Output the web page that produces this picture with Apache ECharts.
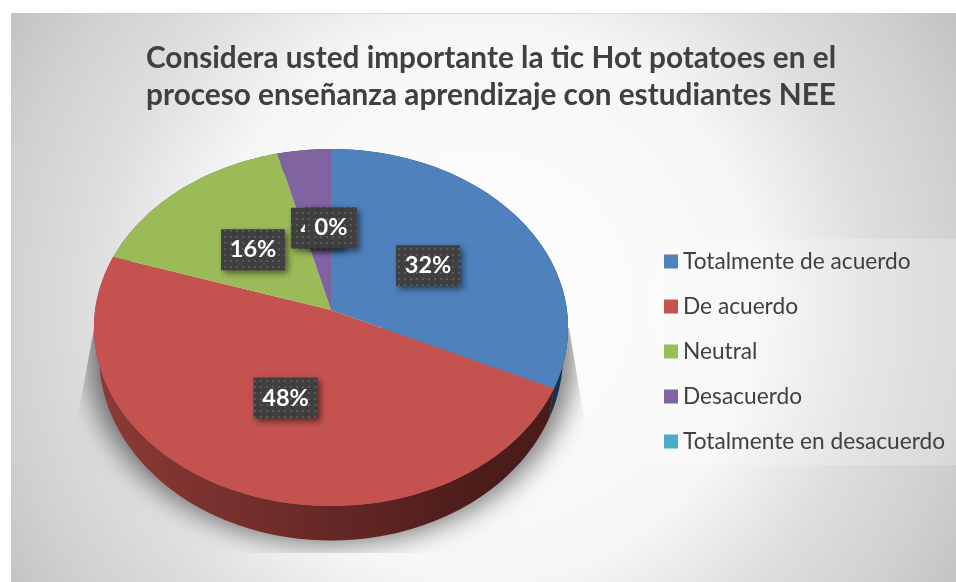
<!DOCTYPE html>
<html><head><meta charset="utf-8">
<style>html,body{margin:0;padding:0;background:#fff}#c{width:956px;height:582px}</style>
<script src="https://cdn.jsdelivr.net/npm/echarts@6/dist/echarts.min.js"></script>
</head><body><div id="c"></div>
<script>
const titleText = 'Considera usted importante la tic Hot potatoes en el\nproceso enseñanza aprendizaje con estudiantes NEE';
const categories = ['Totalmente de acuerdo','De acuerdo','Neutral','Desacuerdo','Totalmente en desacuerdo'];
const values = [32,48,16,4,0];
const topColors = ['#4f81bd','#c4524f','#9bbb59','#8064a2','#4bacc6'];
const sideFrom = ['#2a4d78','#8c3a36','#5d7034','#4c3c61','#2d6776'];
const sideTo = ['#153252','#4c1c1b','#3f4c22','#33283f','#1e4550'];

const total = values.reduce((a,b)=>a+b,0);
const AX=331, AY=310, R=235.9, B=176.8, K=0.098;
function proj(deg,r){
  const t=deg*Math.PI/180, u=r*Math.sin(t), v=-r*Math.cos(t), w=1-K*v;
  return [AX+R*u/w, AY+B*v/w];
}
function lower(p){
  return [331+(p[0]-331)*232/237, 355+(p[1]-327.5)*185/178];
}
function arc(a0,a1,r){
  const n=Math.max(2,Math.ceil(Math.abs(a1-a0)/1.5)), out=[];
  for(let i=0;i<=n;i++) out.push(proj(a0+(a1-a0)*i/n,r));
  return out;
}
const pc=document.createElement('canvas'); pc.width=6; pc.height=6;
const g=pc.getContext('2d'); g.fillStyle='#3f3f3f'; g.fillRect(0,0,6,6);
g.fillStyle='#5a5a5a'; g.fillRect(2,2,2,2);

function renderSlice(params){
  const i=params.seriesIndex;
  let before=0; for(let k=0;k<i;k++) before+=values[k];
  const a0=before/total*360, a1=(before+values[i])/total*360;
  const children=[];
  if(i===0){
    const OFF=3000;
    const ring=arc(0,360,1).map(lower).map(p=>[331+(p[0]-331)*1.05-OFF,355+(p[1]-355)*1.02]);
    children.push({type:'group',
      clipPath:{type:'polygon',shape:{points:[[94,328],[569,328],[584,417],[650,553],[30,553],[79,410]]}},
      children:[{type:'polygon',z2:1,shape:{points:ring},style:{fill:'#000',
        shadowColor:'rgba(0,0,0,0.5)',shadowBlur:26,shadowOffsetX:OFF}}]});
  }
  if(values[i]>0){
    const t=arc(a0,a1,1);
    const side=t.concat(t.map(lower).reverse());
    children.push({type:'polygon',z2:2,shape:{points:side},style:{
      fill:{type:'linear',global:true,x:100,y:0,x2:480,y2:0,colorStops:[{offset:0,color:sideFrom[i]},{offset:1,color:sideTo[i]}]}}});
    children.push({type:'polygon',z2:3,shape:{points:[[AX,AY]].concat(t)},style:{fill:topColors[i]}});
  }
  const c=proj((a0+a1)/2,0.5);
  const cy=c[1]+2;
  const txt=Math.round(values[i]/total*100)+'%';
  const bw=txt.length>2?64:52;
  children.push({type:'rect',z2:10+2*i,shape:{x:c[0]-bw/2,y:cy-20.5,width:bw,height:41},style:{
    fill:{image:pc,repeat:'repeat'},shadowColor:'rgba(0,0,0,0.5)',shadowBlur:6,shadowOffsetX:3,shadowOffsetY:3}});
  children.push({type:'text',z2:11+2*i,style:{text:txt,x:c[0],y:cy,fill:'#fff',textAlign:'center',textVerticalAlign:'middle',
    font:'bold 23.5px Lato'}});
  return {type:'group',children};
}

const chart=echarts.init(document.getElementById('c'),null,{renderer:'canvas'});
chart.setOption({
  animation:false,
  color:topColors,
  backgroundColor:'#fff',
  graphic:[{type:'rect',silent:true,z:-10,shape:{x:11.5,y:13.5,width:960,height:580},style:{
    stroke:'rgba(0,0,0,0.12)',lineWidth:1,
    fill:{type:'radial',x:0.49,y:0.5,r:0.96,colorStops:[{offset:0,color:'#ffffff'},{offset:0.5,color:'#f6f6f6'},{offset:0.7,color:'#dedede'},{offset:0.87,color:'#d0d0d0'},{offset:1,color:'#c2c2c2'}]}}}],
  title:{text:titleText,left:486,top:35,textAlign:'center',
    textStyle:{fontFamily:'Lato',fontWeight:'bold',fontSize:29.75,lineHeight:37,color:'#404040'}},
  legend:{orient:'vertical',left:651,top:239,padding:[11,11,12,13],itemGap:22,itemWidth:14,itemHeight:14,
    backgroundColor:'rgba(255,255,255,0.22)',icon:'rect',data:categories,
    textStyle:{fontFamily:'Lato',fontSize:22.7,color:'#404040'},selectedMode:false},
  series:categories.map((name,i)=>({type:'custom',name,coordinateSystem:'none',renderItem:renderSlice,data:[values[i]],silent:true}))
});
</script></body></html>
